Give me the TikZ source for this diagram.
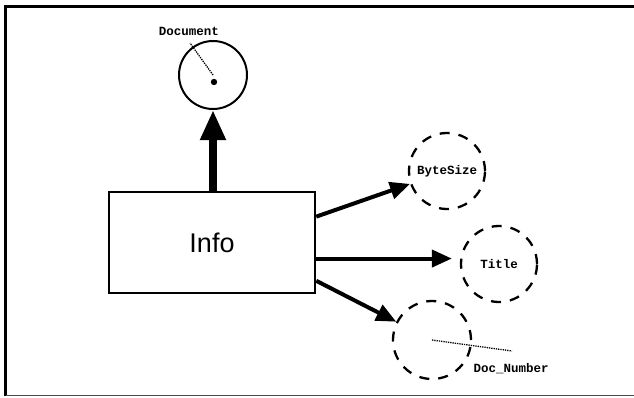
\documentclass[tikz,border=0pt]{standalone}
\usepackage{fontspec}
\setmainfont{Liberation Sans}
\newfontfamily\codefont{Liberation Mono}
\usetikzlibrary{arrows.meta,calc}
\tikzset{
  field/.style={circle, draw, line width=2.3pt, dash pattern=on 10pt off 9pt,
    minimum size=76pt, inner sep=0pt, font=\codefont\bfseries\fontsize{12.5}{14}\selectfont},
  link/.style={line width=4pt, -{Triangle[length=20pt,width=17pt]}},
  label/.style={font=\codefont\bfseries\fontsize{12.5}{14}\selectfont, inner sep=0pt},
  pointer/.style={line width=1.3pt, densely dotted},
}
\begin{document}
\begin{tikzpicture}[x=1pt,y=-1pt]
\useasboundingbox (0,0) rectangle (634,397);
% frame
\draw[line width=3pt] (634,6) -- (5.5,6) -- (5.5,396);
\draw[line width=1.5pt, black!70] (5.5,395.5) -- (634,395.5);

% main class box
\node[draw, line width=2.5pt, minimum width=206pt, minimum height=101pt,
      font=\fontsize{27}{30}\selectfont] (info) at (212,242.5) {Info};

% superclass
\node[circle, draw, line width=2pt, minimum size=68pt, inner sep=0pt] (doc) at (213,75) {};
\fill (214,82) circle (3.2pt);
\coordinate (dochand) at (190,43);
\draw[pointer] (doc.center) -- (dochand);
\node[label] (doclbl) at (189,31) {Document};
\draw[line width=8pt, -{Triangle[length=30pt,width=24pt]}] (info.north -| doc) -- (doc.south);

% attributes
\node[field] (bytesize) at (447,171) {ByteSize};
\node[field] (title) at (499,264) {Title};
\node[field, minimum size=78pt] (docnum) at (432,340) {};
\coordinate (numhand) at (512,351);
\draw[pointer] (docnum.center) -- (numhand);
\node[label] (numlbl) at (511,369) {Doc\_Number};

\coordinate (s1) at ($(info.north east)!0.25!(info.south east)$);
\coordinate (s2) at ($(info.north east)!0.655!(info.south east)$);
\coordinate (s3) at ($(info.north east)!0.87!(info.south east)$);
\draw[link] (s1) -- (bytesize);
\draw[link, shorten >=8pt] (s2) -- (s2 -| title.west);
\draw[link] (s3) -- (docnum);
\end{tikzpicture}
\end{document}
